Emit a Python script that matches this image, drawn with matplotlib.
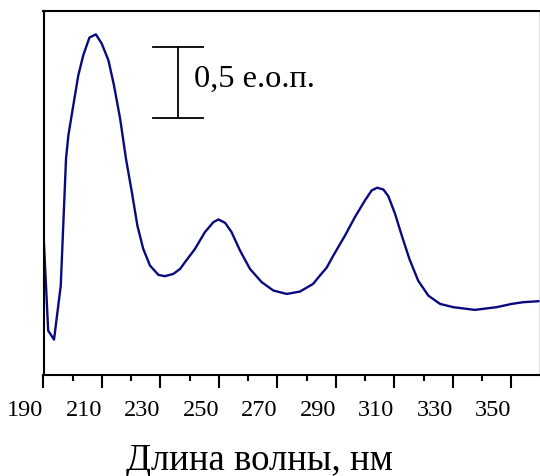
import numpy as np
import matplotlib
matplotlib.use("Agg")
import matplotlib.pyplot as plt

# UV absorption spectrum (absorbance units, 0.5 = scale bar)
wavelength = [190.0, 191.6, 193.6, 195.9, 197.7, 198.5, 200.0, 201.9, 203.6,
              205.7, 207.9, 209.9, 212.2, 214.1, 216.2, 218.2, 220.2, 222.1,
              224.1, 226.4, 229.3, 231.5, 234.4, 236.7, 238.4, 241.8, 245.2,
              248.1, 249.8, 252.1, 254.3, 257.2, 260.6, 264.6, 268.6, 273.2,
              277.7, 282.2, 284.5, 286.8, 289.1, 293.1, 296.5, 299.9, 302.2,
              304.1, 306.2, 307.9, 310.2, 312.5, 315.1, 318.1, 321.6, 325.6,
              330.1, 337.5, 344.9, 350.1, 354.0, 359.2]
absorbance = [0.993, 0.312, 0.249, 0.629, 1.521, 1.685, 1.873, 2.108, 2.249,
              2.373, 2.396, 2.331, 2.213, 2.037, 1.803, 1.521, 1.287, 1.051,
              0.887, 0.770, 0.704, 0.695, 0.711, 0.746, 0.794, 0.887, 1.005,
              1.075, 1.094, 1.070, 1.005, 0.875, 0.746, 0.653, 0.594, 0.570,
              0.587, 0.641, 0.699, 0.754, 0.840, 0.981, 1.111, 1.227, 1.298,
              1.317, 1.305, 1.258, 1.134, 0.981, 0.817, 0.664, 0.558, 0.500,
              0.477, 0.458, 0.477, 0.500, 0.512, 0.519]

major_ticks = [190, 210, 230, 250, 270, 290, 310, 330, 350]
minor_ticks = [200, 220, 240, 260, 280, 300, 320, 340]

scale_value = 0.5
scale_label = "0,5 е.о.п."
x_label = "Длина волны, нм"

plt.rcParams['font.family'] = ['Liberation Serif', 'DejaVu Serif']

fig = plt.figure(figsize=(5.4, 4.77), dpi=100)
ax = fig.add_axes([43.5 / 540, 101 / 477, 496 / 540, 364 / 477])

ax.plot(wavelength, absorbance, color='#0a0a80', linewidth=1.7,
        solid_joinstyle='round')

ax.set_xlim(190, 359.6)
ax.set_ylim(0, 2.56)

# scale bar
bx, btop = 235.9, 2.31
ax.plot([bx, bx], [btop - scale_value, btop], color='black', linewidth=1.3)
for yy in (btop - scale_value, btop):
    ax.plot([bx - 8.6, bx + 8.6], [yy, yy], color='black', linewidth=1.3)
ax.text(241.3, btop - scale_value / 2 + 0.03, scale_label, fontsize=23.3,
        ha='left', va='center')

ax.set_xticks(major_ticks)
ax.set_xticks(minor_ticks, minor=True)
ax.tick_params(axis='x', which='major', direction='out', length=9, width=1.5,
               labelsize=17.5, pad=8)
ax.tick_params(axis='x', which='minor', direction='out', length=4.5, width=1.5)
for lbl in ax.get_xticklabels():
    lbl.set_horizontalalignment('right')
ax.set_yticks([])

for side in ('left', 'top', 'bottom'):
    ax.spines[side].set_linewidth(1.5)
ax.spines['right'].set_linewidth(1.0)
ax.spines['right'].set_color('#555555')

fig.text(259 / 540, 7 / 477, x_label, fontsize=26.5, ha='center', va='baseline')

fig.savefig('out.png', dpi=100)
